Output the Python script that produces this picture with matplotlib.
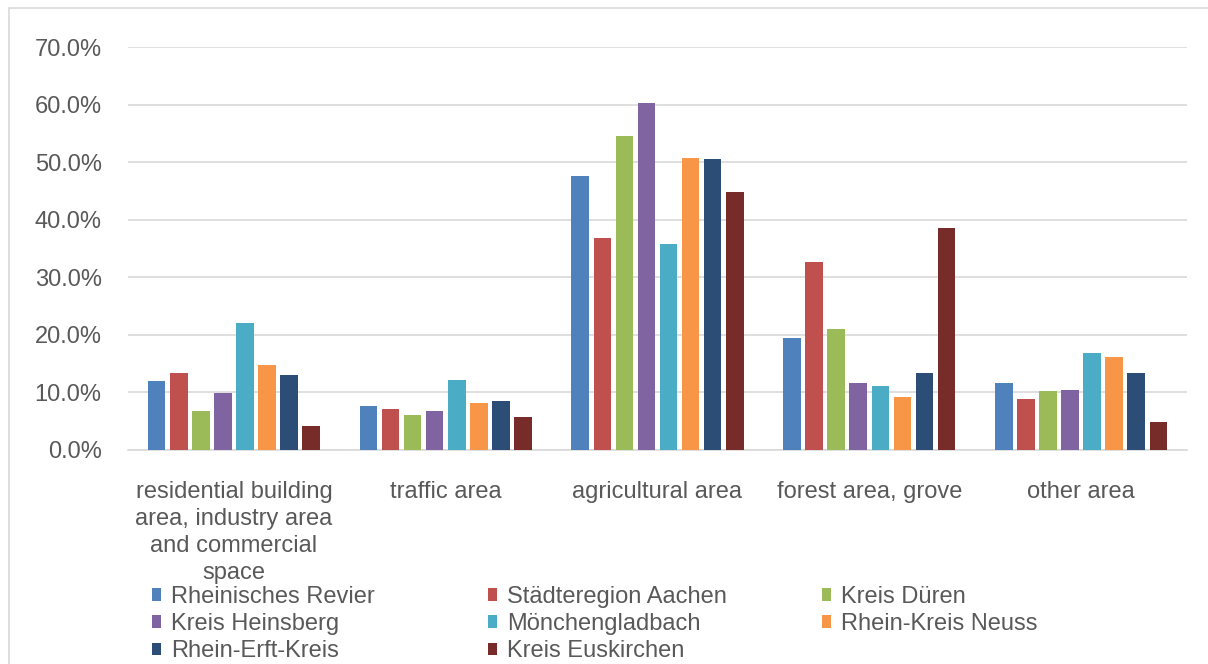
import matplotlib
matplotlib.use("Agg")
import matplotlib.pyplot as plt
from matplotlib.patches import Patch, Rectangle
import numpy as np

plt.rcParams['font.family'] = ['Liberation Sans', 'DejaVu Sans']

categories = [
    "residential building\narea, industry area\nand commercial\nspace",
    "traffic area",
    "agricultural area",
    "forest area, grove",
    "other area",
]

regions = [
    "Rheinisches Revier", "Städteregion Aachen", "Kreis Düren",
    "Kreis Heinsberg", "Mönchengladbach", "Rhein-Kreis Neuss",
    "Rhein-Erft-Kreis", "Kreis Euskirchen",
]

# share of land use per region, in percent (one list per category order)
rheinisches_revier  = [11.9, 7.7, 47.6, 19.5, 11.6]
staedteregion_aachen = [13.3, 7.1, 36.8, 32.7, 8.8]
kreis_dueren        = [6.7, 6.0, 54.6, 21.1, 10.2]
kreis_heinsberg     = [9.9, 6.7, 60.3, 11.6, 10.5]
moenchengladbach    = [22.1, 12.2, 35.8, 11.2, 16.8]
rhein_kreis_neuss   = [14.8, 8.1, 50.8, 9.2, 16.1]
rhein_erft_kreis    = [13.0, 8.5, 50.5, 13.3, 13.3]
kreis_euskirchen    = [4.2, 5.7, 44.9, 38.6, 4.9]

series = [rheinisches_revier, staedteregion_aachen, kreis_dueren, kreis_heinsberg,
          moenchengladbach, rhein_kreis_neuss, rhein_erft_kreis, kreis_euskirchen]

colors = ["#4F81BD", "#C0504D", "#9BBB59", "#8064A2",
          "#4BACC6", "#F79646", "#2C4D75", "#772C2A"]

yticks = [0, 10, 20, 30, 40, 50, 60, 70]
text_color = "#595959"
grid_color = "#D9D9D9"

W, H = 1208, 664
fig = plt.figure(figsize=(W / 100, H / 100), dpi=100)

# light chart-area frame
fig.patches.append(Rectangle((9 / W, -0.05), 1.2, 1 - 8 / H + 0.05,
                             transform=fig.transFigure, fill=False,
                             edgecolor=grid_color, linewidth=1.2))

ax = fig.add_axes([128 / W, 1 - 450 / H, (1187 - 128) / W, (450 - 47) / H])

x = np.arange(len(categories))
pitch = 0.1042
width = 0.083
n = len(series)
for i, (vals, col) in enumerate(zip(series, colors)):
    offs = (i - (n - 1) / 2) * pitch
    ax.bar(x + offs, vals, width=width, color=col, zorder=3, label=regions[i])

ax.set_xlim(-0.5, len(categories) - 0.5)
ax.set_ylim(0, 70)
ax.set_yticks(yticks)
ax.set_yticklabels([f"{v:.1f}%" for v in yticks])
ax.set_xticks(x)
ax.set_xticklabels(categories, linespacing=1.31, ha="center", va="top")
ax.tick_params(axis="y", length=0, pad=19, labelsize=17, labelcolor=text_color)
ax.tick_params(axis="x", length=0, pad=22, labelsize=17, labelcolor=text_color)

ax.grid(axis="y", color=grid_color, linewidth=1.2, zorder=0)
for s in ["top", "right", "left"]:
    ax.spines[s].set_visible(False)
ax.spines["bottom"].set_color(grid_color)
ax.spines["bottom"].set_linewidth(1.2)

# legend laid out row by row in three columns
handles = [Patch(facecolor=c, edgecolor="none") for c in colors]
col_x = [152, 488, 822]
for c in range(3):
    idx = list(range(c, n, 3))
    leg = fig.legend([handles[k] for k in idx], [regions[k] for k in idx],
                     loc="upper left", bbox_to_anchor=(col_x[c] / W, 1 - 586 / H),
                     bbox_transform=fig.transFigure, frameon=False, fontsize=17,
                     handlelength=0.36, handleheight=0.45, handletextpad=0.45,
                     labelspacing=0.22, borderpad=0, borderaxespad=0)
    for t in leg.get_texts():
        t.set_color(text_color)

fig.savefig("out.png", dpi=100, facecolor="white")
